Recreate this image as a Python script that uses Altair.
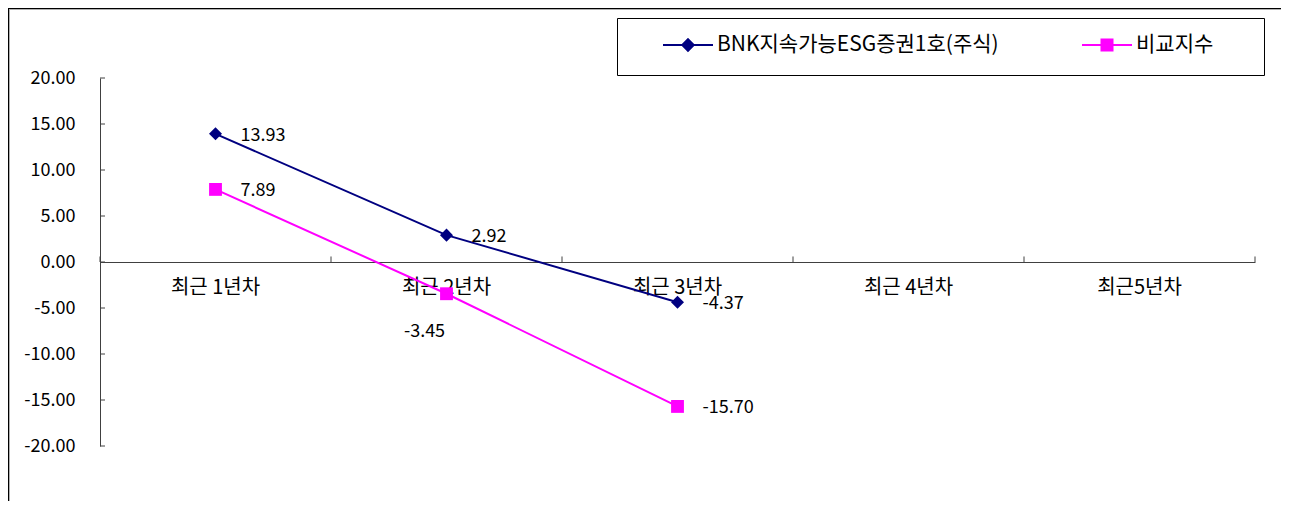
import altair as alt
import pandas as pd

categories = ["최근 1년차", "최근 2년차", "최근 3년차", "최근 4년차", "최근5년차"]
series_names = ["BNK지속가능ESG증권1호(주식)", "비교지수"]
fund_values = [13.93, 2.92, -4.37]
index_values = [7.89, -3.45, -15.70]
y_ticks = [-20, -15, -10, -5, 0, 5, 10, 15, 20]
colors = ["#000080", "#FF00FF"]

rows = []
for s, vals in zip(series_names, [fund_values, index_values]):
    for c, v in zip(categories, vals):
        rows.append({"cat": c, "series": s, "value": v, "label": f"{v:.2f}"})
df = pd.DataFrame(rows)

W, H = 1155, 368
FONT = "Noto Sans CJK KR"
AXIS_COLOR = "#404040"


def diamond(r):
    return f"M0,-{r}L{r},0L0,{r}L-{r},0Z"


def square(r):
    return f"M-{r},-{r}H{r}V{r}H-{r}Z"


legend_shapes = [
    "M-1,0H1" + "".join(diamond(r) for r in (0.23, 0.17, 0.11, 0.05)),
    "M-1,0H1" + "".join(square(r) for r in (0.22, 0.16, 0.10, 0.04)),
]

x_scale = alt.Scale(domain=categories, paddingInner=0, paddingOuter=0)
y_scale = alt.Scale(domain=[-20, 20], nice=False, zero=False)

x_axis = alt.Axis(
    orient="bottom", offset=-H / 2, ticks=False, tickSize=0, labelPadding=15,
    labelFont=FONT, labelFontSize=20, labelColor="black", labelAngle=0,
    domainColor=AXIS_COLOR, grid=False, title=None,
)
y_axis = alt.Axis(
    values=y_ticks, ticks=False, tickSize=0, labelPadding=25,
    labelExpr="(datum.value < 0 ? '-' : '') + format(abs(datum.value), '.2f')",
    labelFont=FONT, labelFontSize=18, labelColor="black",
    domainColor=AXIS_COLOR, grid=False, title=None,
)

X = alt.X("cat:N", scale=x_scale, axis=x_axis, sort=categories)
Y = alt.Y("value:Q", scale=y_scale, axis=y_axis)
color_scale = alt.Scale(domain=series_names, range=colors)

legend_def = alt.Legend(
    title=None, orient="none", legendX=562, legendY=-59, direction="horizontal",
    symbolSize=2500, symbolStrokeWidth=2, labelFont=FONT, labelFontSize=21,
    labelColor="black", labelOffset=3, columnPadding=79, padding=0, labelLimit=1000,
)

base = alt.Chart(df)

lines = base.mark_line(strokeWidth=2).encode(
    x=X, y=Y, color=alt.Color("series:N", scale=color_scale), detail="series:N"
)

fund_pts = base.transform_filter(alt.datum.series == series_names[0]).mark_point(
    shape="diamond", filled=True, size=170, opacity=1
).encode(x=X, y=Y, color=alt.Color("series:N", scale=color_scale))

index_pts = base.transform_filter(alt.datum.series == series_names[1]).mark_point(
    shape="square", filled=True, size=165, opacity=1
).encode(x=X, y=Y, color=alt.Color("series:N", scale=color_scale))

legend_layer = base.transform_filter("false").mark_point(filled=False, strokeWidth=2).encode(
    x=X, y=Y,
    color=alt.Color("series:N", scale=color_scale, legend=legend_def),
    shape=alt.Shape("series:N", scale=alt.Scale(domain=series_names, range=legend_shapes), legend=legend_def),
)

special = "datum.cat == '최근 2년차' && datum.series == '비교지수'"
labels_main = base.transform_filter("!(" + special + ")").mark_text(
    align="left", baseline="middle", dx=25, dy=2, font=FONT, fontSize=18, color="black"
).encode(x=X, y=Y, text="label:N")
labels_special = base.transform_filter(special).mark_text(
    align="center", baseline="middle", dx=-22, dy=38, font=FONT, fontSize=18, color="black"
).encode(x=X, y=Y, text="label:N")

# inside tick marks (Excel style)
ytick_df = pd.DataFrame({"value": y_ticks})
yticks = alt.Chart(ytick_df).mark_rule(color=AXIS_COLOR, strokeWidth=1).encode(
    y=Y, x=alt.value(0), x2=alt.value(5)
)
xtick_df = pd.DataFrame({"cat": categories})
xticks = alt.Chart(xtick_df).mark_rule(color=AXIS_COLOR, strokeWidth=1).encode(
    x=alt.X("cat:N", scale=x_scale, axis=x_axis, sort=categories, bandPosition=0),
    y=alt.Y(datum=0, scale=y_scale, axis=y_axis), y2=alt.Y2(datum=0.6),
)
xtick_end = alt.Chart(xtick_df).transform_filter(alt.datum.cat == categories[-1]).mark_rule(
    color=AXIS_COLOR, strokeWidth=1
).encode(
    x=alt.X("cat:N", scale=x_scale, axis=x_axis, sort=categories, bandPosition=1),
    y=alt.Y(datum=0, scale=y_scale, axis=y_axis), y2=alt.Y2(datum=0.6),
)

# decorative chart frame and legend box
one = alt.Chart(pd.DataFrame({"k": [0]}))
frame_top = one.mark_rule(color="black", strokeWidth=1).encode(
    x=alt.value(-92), x2=alt.value(W + 26), y=alt.value(-69.5)
)
frame_top2 = one.mark_rule(color="#b0b0b0", strokeWidth=1).encode(
    x=alt.value(-91), x2=alt.value(W + 26), y=alt.value(-68.5)
)
frame_left = one.mark_rule(color="black", strokeWidth=1).encode(
    x=alt.value(-91.5), y=alt.value(-70), y2=alt.value(H + 55)
)
frame_left2 = one.mark_rule(color="#b0b0b0", strokeWidth=1).encode(
    x=alt.value(-90.5), y=alt.value(-69), y2=alt.value(H + 55)
)
legend_box = one.mark_rect(fill="white", stroke="black", strokeWidth=1).encode(
    x=alt.value(517.5), x2=alt.value(1164.5), y=alt.value(-59.5), y2=alt.value(-2.5)
)

chart = alt.layer(
    frame_top, frame_top2, frame_left, frame_left2, legend_box,
    yticks, xticks, xtick_end,
    lines, fund_pts, index_pts, legend_layer, labels_main, labels_special,
).properties(
    width=W, height=H,
    autosize=alt.AutoSizeParams(type="none"),
    padding={"left": 92, "top": 70, "right": 26, "bottom": 55},
    background="white",
).configure_view(stroke=None)

chart.save("out.html", embed_options={"renderer": "svg", "actions": False})
